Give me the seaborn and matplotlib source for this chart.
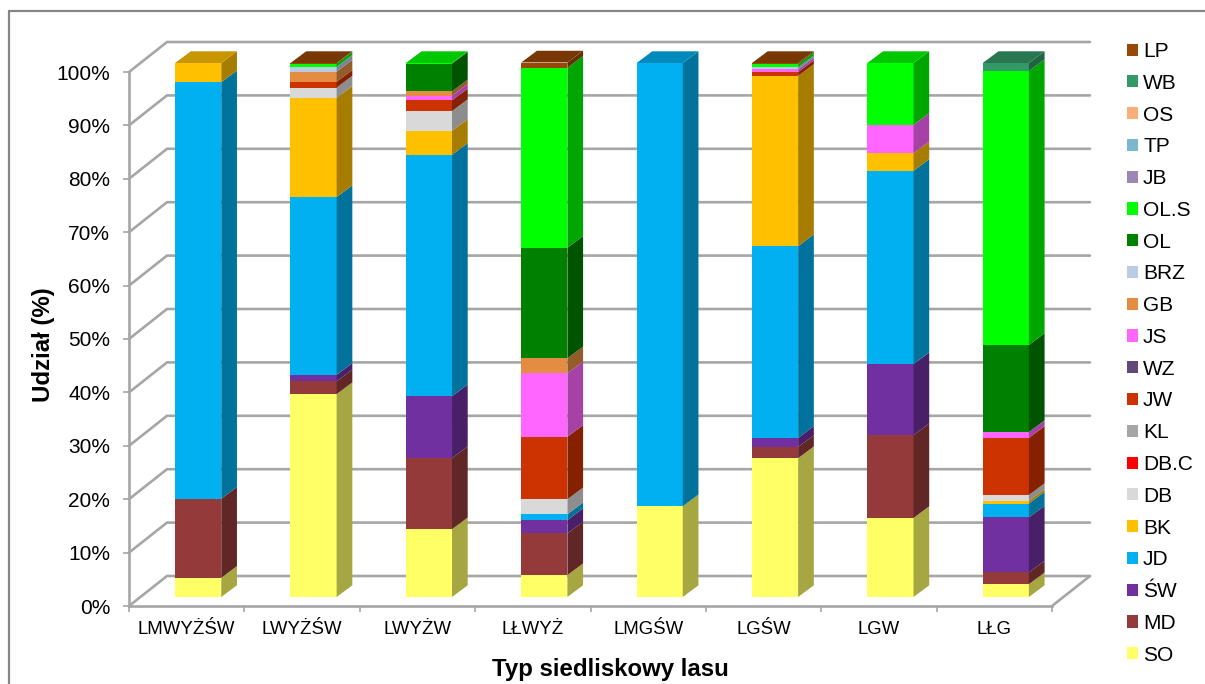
import matplotlib
matplotlib.use("Agg")
import matplotlib.pyplot as plt
import seaborn as sns
import numpy as np
from matplotlib.colors import to_rgb
from matplotlib.lines import Line2D
from matplotlib.patches import Patch, Polygon

# Forest site types
categories = ["LMWYŻŚW", "LWYŻŚW", "LWYŻW", "LŁWYŻ", "LMGŚW", "LGŚW", "LGW", "LŁG"]

# Species share (%) per site type, bottom of the stack first
SO = [3.6, 38.0, 12.7, 4.1, 17.0, 26.0, 14.8, 2.4]
MD = [14.8, 2.4, 13.3, 7.8, 0, 2.1, 15.5, 2.2]
SW = [0, 1.2, 11.6, 2.5, 0, 1.7, 13.3, 10.3]
JD = [78.0, 33.3, 45.2, 1.1, 83.0, 35.9, 36.2, 2.6]
BK = [3.6, 18.6, 4.5, 0, 0, 31.9, 3.3, 0.5]
DB = [0, 1.9, 3.7, 2.8, 0, 0, 0, 1.1]
DB_C = [0, 0, 0, 0, 0, 0, 0, 0]
KL = [0, 0, 0, 0, 0, 0, 0, 0]
JW = [0, 1.1, 2.0, 11.7, 0, 0.7, 0, 10.7]
WZ = [0, 0, 0, 0, 0, 0, 0, 0]
JS = [0, 0, 0.9, 11.9, 0, 0.5, 5.3, 1.1]
GB = [0, 1.9, 0.8, 2.8, 0, 0, 0, 0]
BRZ = [0, 0.9, 0, 0, 0, 0.4, 0, 0]
OL = [0, 0, 5.2, 20.7, 0, 0, 0, 16.3]
OL_S = [0, 0.6, 0.1, 33.7, 0, 0.6, 11.6, 51.3]
JB = [0, 0, 0, 0, 0, 0, 0, 0]
TP = [0, 0, 0, 0, 0, 0, 0, 0]
OS = [0, 0, 0, 0, 0, 0, 0, 0]
WB = [0, 0, 0, 0, 0, 0, 0, 1.5]
LP = [0, 0.1, 0, 1.0, 0, 0.2, 0, 0]

series_names = ["SO", "MD", "ŚW", "JD", "BK", "DB", "DB.C", "KL", "JW", "WZ",
                "JS", "GB", "BRZ", "OL", "OL.S", "JB", "TP", "OS", "WB", "LP"]
series_values = [SO, MD, SW, JD, BK, DB, DB_C, KL, JW, WZ,
                 JS, GB, BRZ, OL, OL_S, JB, TP, OS, WB, LP]
series_colors = ["#FFFF66", "#953A3A", "#7030A0", "#00B0F0", "#FFC000", "#D9D9D9",
                 "#FF0000", "#A6A6A6", "#CC3300", "#60497A", "#FF66FF", "#E48C42",
                 "#B8CCE4", "#008000", "#00FF00", "#9B86B5", "#7BB8D0", "#FAAE78",
                 "#339966", "#984807"]

sns.set_theme(style="white")
plt.rcParams["font.family"] = ["Liberation Sans", "DejaVu Sans"]

W, H = 1205, 684
GRID = "#A6A6A6"
fig = plt.figure(figsize=(W / 100, H / 100), dpi=100)


def px_axes(left, right, bottom, top):
    """Axes placed by pixel edges, with y counted from the top of the image."""
    return fig.add_axes([left / W, 1 - bottom / H, (right - left) / W, (bottom - top) / H])


# Front plane of the box: carries the axis ticks and labels
front = px_axes(129, 1052, 606, 72)
front.set_xlim(-0.5, 7.5)
front.set_ylim(0, 100)
sns.despine(ax=front)
for side in ("left", "bottom"):
    front.spines[side].set_color(GRID)
    front.spines[side].set_linewidth(1.9)

front.set_xticks(np.arange(-0.5, 8, 1))
front.set_xticklabels([])
front.set_xticks(range(len(categories)), labels=categories, minor=True)
front.tick_params(axis="x", which="major", bottom=True, length=4, width=1.2, color=GRID)
front.tick_params(axis="x", which="minor", bottom=False, length=0, pad=11, labelsize=13.4,
                  labelcolor="black")
front.set_yticks(range(0, 101, 10), labels=[f"{v}%" for v in range(0, 101, 10)])
front.tick_params(axis="y", left=True, length=4, width=1.2, color=GRID, pad=9.5,
                  labelsize=15, labelcolor="black")
front.set_xlabel("Typ siedliskowy lasu", fontsize=17.3, fontweight="bold", color="black", va="center")
front.set_ylabel("Udział (%)", fontsize=17.3, fontweight="bold", color="black", va="center")
front.xaxis.set_label_coords(0.521, -0.119)
front.yaxis.set_label_coords(-0.093, 0.489)

# Depth of the box expressed in front-plane data units
box_dx, box_dy = 38 / 115.4, 30 / 5.34

for v in range(0, 101, 10):
    front.plot([-0.5, -0.5 + box_dx, 7.5 + box_dx], [v, v + box_dy, v + box_dy],
               color=GRID, lw=1.9, clip_on=False, zorder=1, solid_joinstyle="miter")
front.plot([7.5, 7.5 + box_dx], [0, box_dy], color=GRID, lw=1.9, clip_on=False, zorder=1)

# Column plane: same scales, pushed back along the depth direction
bars = px_axes(129 + 11.5, 1052 + 11.5, 597, 63)
bars.set_axis_off()

bottoms = np.zeros(len(categories))
bar_width = 0.4
side_dx, side_dy = 15.7 / 115.4, 11.7 / 5.34


def shade(color, factor):
    return tuple(c * factor for c in to_rgb(color))


tops = np.sum(series_values, axis=0)
for name, values, color in zip(series_names, series_values, series_colors):
    values = np.array(values, dtype=float)
    sns.barplot(x=categories, y=values, bottom=bottoms, order=categories, color=color,
                saturation=1, width=bar_width, linewidth=0, errorbar=None, ax=bars, zorder=3)
    for i, (base, val) in enumerate(zip(bottoms, values)):
        if val <= 0:
            continue
        x1 = i + bar_width / 2
        x0 = i - bar_width / 2
        end = base + val
        bars.add_patch(Polygon([(x1, base), (x1 + side_dx, base + side_dy),
                                (x1 + side_dx, end + side_dy), (x1, end)],
                               facecolor=shade(color, 0.65), edgecolor="none",
                               clip_on=False, zorder=3))
        if abs(end - tops[i]) < 1e-6:
            bars.add_patch(Polygon([(x0, end), (x1, end), (x1 + side_dx, end + side_dy),
                                    (x0 + side_dx, end + side_dy)],
                                   facecolor=shade(color, 0.78), edgecolor="none",
                                   clip_on=False, zorder=3))
    bottoms = bottoms + values

bars.set_xlim(-0.5, 7.5)
bars.set_ylim(0, 100)

# Legend lists the species from the top of the stack down
handles = [Patch(facecolor=c, edgecolor="none") for c in series_colors[::-1]]
fig.legend(handles, series_names[::-1], loc="upper left",
           bbox_to_anchor=(1127 / W, 1 - 42 / H), frameon=False, fontsize=15,
           borderpad=0, borderaxespad=0, handlelength=0.52, handleheight=0.52,
           handletextpad=0.25, labelspacing=0.613, labelcolor="black")

# Chart area border
border = "#868686"
fig.add_artist(Line2D([9 / W, 9 / W], [0, 1 - 11 / H], color=border, lw=1.6,
                      transform=fig.transFigure))
fig.add_artist(Line2D([9 / W, 1], [1 - 11 / H, 1 - 11 / H], color=border, lw=1.6,
                      transform=fig.transFigure))

fig.savefig("out.png", dpi=100, facecolor="white")
